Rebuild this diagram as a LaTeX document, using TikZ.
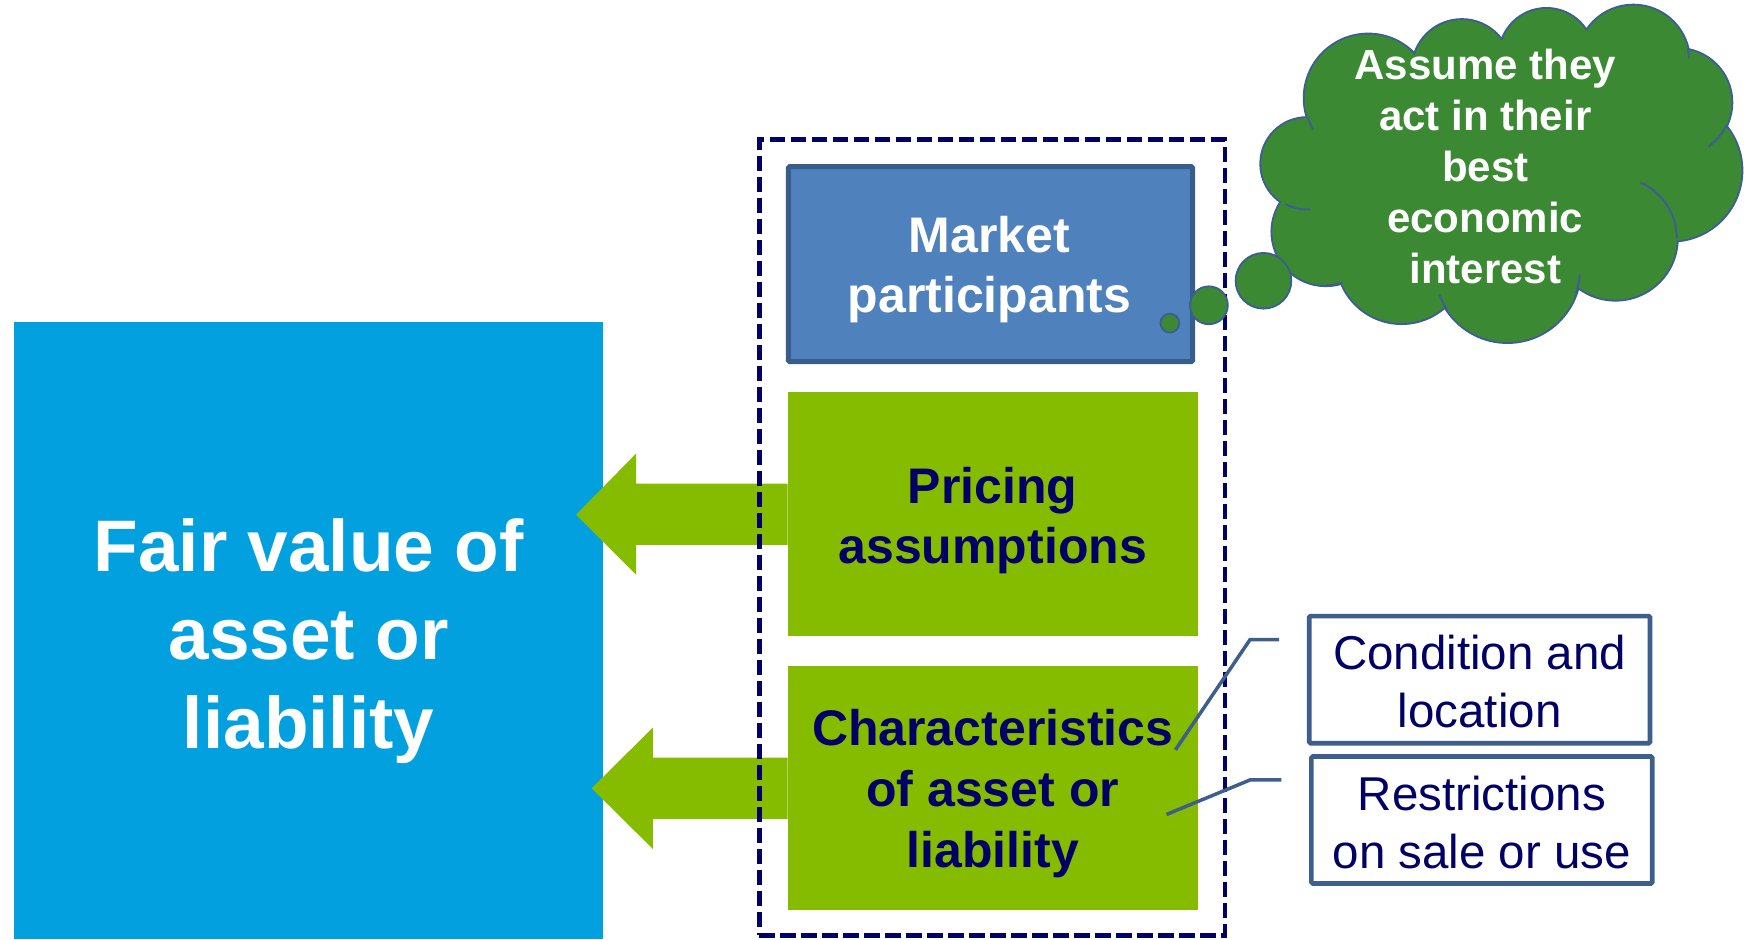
\documentclass[tikz,border=0pt]{standalone}
\usepackage{fontspec}
\setmainfont{Liberation Sans}
\usetikzlibrary{calc}
\newcommand{\pxu}{1.1142pt}
\definecolor{fvblue}{RGB}{2,160,222}
\definecolor{lime}{RGB}{134,188,0}
\definecolor{mpfill}{RGB}{79,129,189}
\definecolor{mpline}{RGB}{56,93,138}
\definecolor{navy}{RGB}{0,0,102}
\definecolor{cloudgreen}{RGB}{59,137,50}
\definecolor{cloudline}{RGB}{62,92,150}
\definecolor{tagline}{RGB}{62,95,142}
\begin{document}
\begin{tikzpicture}[x=1.1142pt, y=-1.1142pt,
  plainbox/.style={rectangle, inner sep=0pt, outer sep=0pt},
  bigbox/.style={plainbox, fill=fvblue},
  limebox/.style={plainbox, fill=lime},
  mpbox/.style={plainbox, fill=mpfill, draw=mpline, line width=5pt, rounded corners=1.5pt},
  tagbox/.style={plainbox, fill=white, draw=tagline, line width=4.7pt, rounded corners=1.5pt},
  groupbox/.style={plainbox, draw=navy, line width=4.7pt, dash pattern=on 15.5pt off 5.5pt},
  txt/.style={inner sep=0pt, align=center},
  bubble/.style={circle, inner sep=0pt, fill=cloudgreen, draw=cloudline, line width=1.8pt},
  tagrule/.style={draw=tagline, line width=3.5pt},
  puffedge/.style={draw=cloudline, line width=3.8pt},
  puffcrease/.style={draw=cloudline, line width=1.9pt},
  puff/.style={fill=cloudgreen}
]
\useasboundingbox (0,0) rectangle (1568,843);

% fair value block
\node[bigbox, minimum width=528*\pxu, minimum height=554*\pxu] (fv) at (277,566) {};
\node[txt, text=white, font=\fontsize{73}{88.5}\selectfont\bfseries] (fvt) at (277,575)
  {Fair value of\\asset or\\liability};

% component boxes
\node[mpbox, minimum width=363*\pxu, minimum height=175*\pxu] (mp) at (889,237) {};
\node[limebox, minimum width=368*\pxu, minimum height=219*\pxu] (pa) at (891,461.5) {};
\node[limebox, minimum width=368*\pxu, minimum height=219*\pxu] (ch) at (891,707.5) {};

% block arrows into the fair value box
\fill[lime] ($(pa.west)+(0,-27.5)$) -- ++(-136,0) -- ++(0,-27)
  -- ($(fv.east |- pa.west)+(-24,0.5)$) -- ($(pa.west)+(-136,54.5)$) -- ++(0,-27)
  -- ($(pa.west)+(0,27.5)$) -- cycle;
\fill[lime] ($(ch.west)+(0,-27.5)$) -- ++(-121,0) -- ++(0,-27)
  -- ($(fv.east |- ch.west)+(-10,0)$) -- ($(ch.west)+(-121,54.5)$) -- ++(0,-27)
  -- ($(ch.west)+(0,27.5)$) -- cycle;

% dashed grouping frame
\node[groupbox, minimum width=418*\pxu, minimum height=714*\pxu] (grp) at (890.5,482.5) {};

\node[txt, text=white, font=\fontsize{50}{60}\selectfont\bfseries] (mpt) at (888,242)
  {Market\\participants};
\node[txt, text=navy, font=\fontsize{50}{60}\selectfont\bfseries] (pat) at (891,467)
  {Pricing\\assumptions};
\node[txt, text=navy, font=\fontsize{50}{61}\selectfont\bfseries] (cht) at (891,712.5)
  {Characteristics\\of asset or\\liability};

% detail tags
\node[tagbox, minimum width=306*\pxu, minimum height=114*\pxu] (cl) at (1328,610) {};
\node[tagbox, minimum width=306*\pxu, minimum height=114*\pxu] (rs) at (1330,736) {};
\node[txt, text=navy, font=\fontsize{47.5}{58}\selectfont] (clt) at (1328,612)
  {Condition and\\location};
\node[txt, text=navy, font=\fontsize{47.5}{58}\selectfont] (rst) at (1330,738)
  {Restrictions\\on sale or use};

% leader lines from the characteristics box
\coordinate (l1a) at (1055,673);
\coordinate (l1b) at (1122,574);
\coordinate (l1c) at (1148,574);
\coordinate (l2a) at (1047,731);
\coordinate (l2b) at (1122,700);
\coordinate (l2c) at (1150,700);
\draw[tagrule] (l1a) -- (l1b) -- (l1c);
\draw[tagrule] (l2a) -- (l2b) -- (l2c);

% thought cloud: every puff outlined, then all puffs filled over the inner halves
\def\puffs{1173/147/41, 1228/88/57, 1312/62/44, 1388/50/42, 1466/55/50, 1506/92/48,
  1500/153/63, 1450/214/55, 1353/242/65, 1258/232/58, 1190/208/48}
\foreach \cx/\cy/\r in \puffs
  \draw[puffedge] (\cx,\cy) circle[radius=\r];
\foreach \cx/\cy/\r in \puffs
  \fill[puff] (\cx,\cy) circle[radius=\r];
\fill[puff] (1173,147) -- (1228,88) -- (1312,62) -- (1388,50) -- (1466,55) -- (1506,92)
  -- (1500,153) -- (1450,214) -- (1353,242) -- (1258,232) -- (1190,208) -- cycle;
% creases where puffs overlap
\draw[puffcrease] (1228,88) ++(162:57) arc[start angle=162, end angle=150, radius=57];
\draw[puffcrease] (1173,147) ++(118:41) arc[start angle=118, end angle=86, radius=41];
\draw[puffcrease] (1190,208) ++(90:48) arc[start angle=90, end angle=72, radius=48];
\draw[puffcrease] (1353,242) ++(160:65) arc[start angle=160, end angle=146, radius=65];
\draw[puffcrease] (1466,55) ++(-13:50) arc[start angle=-13, end angle=-3, radius=50];
\draw[puffcrease] (1506,92) ++(25:48) arc[start angle=25, end angle=55, radius=48];
\draw[puffcrease] (1450,214) ++(-66:55) arc[start angle=-66, end angle=0, radius=55];
\draw[puffcrease] (1353,242) ++(4:65) arc[start angle=4, end angle=19, radius=65];

\node[txt, text=white, font=\fontsize{42}{51}\selectfont\bfseries] (cloudt) at (1333,149)
  {Assume they\\act in their\\best\\economic\\interest};

% thought bubbles
\node[bubble, minimum size=50*\pxu] (b3) at (1134,252) {};
\node[bubble, minimum size=34*\pxu] (b2) at (1085,274) {};
\node[bubble, minimum size=17*\pxu] (b1) at (1050,290) {};
\end{tikzpicture}
\end{document}
